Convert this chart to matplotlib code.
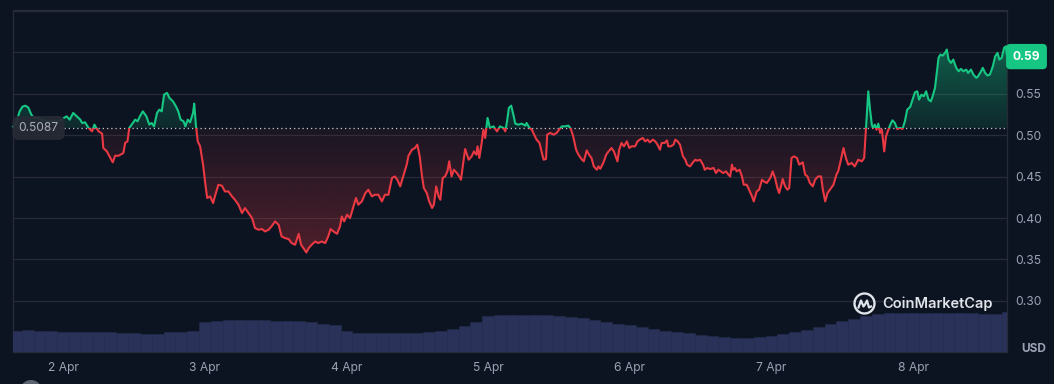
import numpy as np
import matplotlib
matplotlib.use("Agg")
import matplotlib.pyplot as plt
import matplotlib.transforms as mtransforms
from matplotlib.path import Path
from matplotlib.patches import Rectangle, Ellipse
from matplotlib.lines import Line2D

plt.rcParams['font.family'] = ['Inter', 'DejaVu Sans']

# price readings: hours since 1 Apr 00:00 and price (USD)
hours = [
    15.5, 16.0, 16.6, 17.1, 17.6, 18.1, 18.6, 19.1, 19.8, 20.4,
    21.1, 21.8, 22.5, 23.2, 23.8, 24.1, 24.6, 25.1, 25.7, 26.3,
    26.9, 27.2, 27.7, 28.3, 28.9, 29.3, 29.6, 30.0, 30.6, 30.8,
    31.4, 32.0, 32.4, 32.8, 33.4, 34.2, 34.5, 34.9, 35.2, 35.6,
    36.2, 36.6, 37.0, 37.5, 38.1, 38.6, 39.0, 39.4, 39.9, 40.3,
    40.7, 41.1, 41.6, 42.0, 42.6, 43.1, 43.5, 43.9, 44.4, 44.7,
    45.1, 45.5, 46.0, 46.2, 46.5, 46.8, 47.2, 47.7, 48.1, 48.4,
    48.9, 49.4, 49.7, 50.3, 50.9, 51.4, 52.0, 52.6, 53.1, 53.7,
    54.3, 54.8, 55.4, 56.0, 56.5, 57.1, 57.7, 58.2, 58.8, 59.3,
    59.9, 60.5, 61.0, 61.6, 62.2, 62.7, 63.3, 63.9, 64.3, 64.7,
    65.2, 65.6, 66.1, 66.7, 67.2, 67.8, 68.4, 68.9, 69.3, 69.8,
    70.4, 70.9, 71.2, 71.6, 72.1, 72.6, 73.1, 73.6, 74.0, 74.6,
    75.2, 75.7, 76.3, 76.8, 77.4, 78.0, 78.5, 79.1, 79.7, 80.2,
    80.6, 81.1, 81.6, 82.2, 82.5, 83.1, 83.6, 84.0, 84.4, 84.8,
    85.1, 85.6, 86.0, 86.5, 86.8, 87.2, 87.6, 87.9, 88.3, 88.7,
    89.1, 89.4, 89.8, 90.2, 90.7, 91.1, 91.4, 91.7, 92.1, 92.7,
    93.2, 93.6, 94.0, 94.2, 94.5, 94.9, 95.2, 95.5, 95.9, 96.3,
    96.9, 97.5, 98.0, 98.6, 98.9, 99.2, 99.5, 99.9, 100.2, 100.6,
    101.1, 101.7, 102.3, 102.5, 103.0, 103.4, 103.8, 104.2, 104.7, 105.1,
    105.4, 105.8, 106.0, 106.5, 107.1, 107.6, 108.1, 108.5, 109.0, 109.6,
    110.0, 110.4, 110.9, 111.3, 111.9, 112.2, 112.7, 113.1, 113.5, 113.9,
    114.4, 114.7, 115.0, 115.5, 116.0, 116.4, 116.9, 117.3, 117.7, 117.9,
    118.2, 118.6, 119.0, 119.5, 119.9, 120.3, 120.9, 121.3, 121.7, 122.2,
    122.6, 123.0, 123.4, 123.9, 124.3, 124.7, 125.1, 125.4, 125.9, 126.3,
    126.5, 126.9, 127.4, 127.7, 128.1, 128.5, 129.0, 129.4, 129.7, 130.2,
    130.7, 131.1, 131.4, 131.9, 132.4, 132.7, 133.1, 133.6, 134.2, 134.6,
    135.0, 135.4, 135.8, 136.3, 136.7, 137.0, 137.3, 137.5, 137.8, 138.1,
    138.6, 139.0, 139.3, 139.8, 140.2, 140.7, 141.0, 141.5, 141.9, 142.4,
    142.7, 143.2, 143.8, 144.2, 144.6, 145.0, 145.3, 145.6, 145.9, 146.3,
    146.7, 147.0, 147.4, 147.8, 148.3, 148.7, 149.3, 149.7, 150.1, 150.5,
    151.0, 151.4, 151.9, 152.4, 152.7, 153.1, 153.5, 153.9, 154.5, 155.0,
    155.3, 155.7, 156.2, 156.6, 157.0, 157.6, 158.1, 158.7, 159.3, 159.7,
    160.0, 160.4, 160.7, 161.0, 161.2, 161.5, 161.8, 162.1, 162.4, 162.7,
    163.1, 163.4, 163.8, 164.2, 164.5, 164.9, 165.3, 165.8, 166.2, 166.6,
    167.0, 167.5, 167.9, 168.3, 168.7, 169.0, 169.4, 169.8, 170.2, 170.6,
    171.0, 171.3, 171.7, 172.0, 172.3, 172.6, 173.0, 173.4, 173.7, 174.0,
    174.4, 174.8, 175.3, 175.7, 176.1, 176.5, 177.0, 177.3, 177.8, 178.2,
    178.7, 179.0, 179.4, 179.8, 180.2, 180.6, 181.0, 181.5, 181.9, 182.3,
    182.6, 183.0, 183.4, 183.7, 183.9,
]
prices = [
    0.5103, 0.5139, 0.5284, 0.5344, 0.5356, 0.5332, 0.5248, 0.5199, 0.5211, 0.5187,
    0.5175, 0.5163, 0.5175, 0.5175, 0.5187, 0.5208, 0.5227, 0.5187, 0.5268, 0.5227,
    0.5187, 0.5147, 0.5155, 0.5087, 0.5046, 0.5127, 0.5087, 0.5046, 0.5018, 0.4845,
    0.4804, 0.4725, 0.4672, 0.4752, 0.4752, 0.4785, 0.4906, 0.4925, 0.5087, 0.5127,
    0.5187, 0.5167, 0.5227, 0.5287, 0.5227, 0.5127, 0.5147, 0.5106, 0.5268, 0.5308,
    0.5287, 0.5489, 0.5510, 0.5449, 0.5408, 0.5348, 0.5287, 0.5187, 0.5167, 0.5106,
    0.5187, 0.5155, 0.5268, 0.5380, 0.5106, 0.4925, 0.4865, 0.4644, 0.4402, 0.4242,
    0.4261, 0.4181, 0.4261, 0.4402, 0.4390, 0.4321, 0.4321, 0.4261, 0.4221, 0.4161,
    0.4060, 0.4121, 0.4060, 0.4000, 0.3879, 0.3859, 0.3867, 0.3838, 0.3859, 0.3899,
    0.3959, 0.3919, 0.3778, 0.3758, 0.3746, 0.3698, 0.3678, 0.3810, 0.3678, 0.3638,
    0.3585, 0.3638, 0.3678, 0.3717, 0.3698, 0.3717, 0.3698, 0.3778, 0.3867, 0.3838,
    0.3810, 0.3899, 0.4019, 0.3959, 0.4040, 0.4000, 0.4121, 0.4242, 0.4161, 0.4201,
    0.4302, 0.4342, 0.4261, 0.4281, 0.4281, 0.4201, 0.4281, 0.4281, 0.4483, 0.4502,
    0.4463, 0.4382, 0.4502, 0.4644, 0.4752, 0.4825, 0.4845, 0.4885, 0.4744, 0.4502,
    0.4362, 0.4302, 0.4201, 0.4121, 0.4161, 0.4382, 0.4261, 0.4221, 0.4483, 0.4502,
    0.4563, 0.4684, 0.4502, 0.4583, 0.4543, 0.4502, 0.4463, 0.4623, 0.4833, 0.4704,
    0.4744, 0.4804, 0.4764, 0.4865, 0.4725, 0.4906, 0.5066, 0.4966, 0.5208, 0.5087,
    0.5106, 0.5046, 0.5106, 0.5087, 0.5046, 0.5167, 0.5328, 0.5356, 0.5268, 0.5139,
    0.5127, 0.5139, 0.5115, 0.5147, 0.5087, 0.5066, 0.5006, 0.4946, 0.4906, 0.4785,
    0.4704, 0.4713, 0.5006, 0.5027, 0.5006, 0.5027, 0.5075, 0.5106, 0.5106, 0.5115,
    0.5075, 0.4986, 0.4825, 0.4764, 0.4704, 0.4684, 0.4816, 0.4764, 0.4725, 0.4623,
    0.4583, 0.4623, 0.4595, 0.4664, 0.4764, 0.4804, 0.4845, 0.4804, 0.4725, 0.4684,
    0.4825, 0.4906, 0.4865, 0.4925, 0.4845, 0.4865, 0.4865, 0.4925, 0.4946, 0.4966,
    0.4925, 0.4946, 0.4913, 0.4946, 0.4925, 0.4885, 0.4825, 0.4906, 0.4906, 0.4937,
    0.4865, 0.4865, 0.4885, 0.4946, 0.4925, 0.4885, 0.4744, 0.4704, 0.4644, 0.4623,
    0.4672, 0.4704, 0.4692, 0.4704, 0.4644, 0.4583, 0.4604, 0.4592, 0.4604, 0.4543,
    0.4583, 0.4563, 0.4543, 0.4563, 0.4523, 0.4502, 0.4644, 0.4583, 0.4604, 0.4563,
    0.4583, 0.4502, 0.4402, 0.4402, 0.4342, 0.4261, 0.4201, 0.4321, 0.4342, 0.4463,
    0.4442, 0.4423, 0.4483, 0.4563, 0.4483, 0.4362, 0.4302, 0.4382, 0.4471, 0.4382,
    0.4342, 0.4362, 0.4725, 0.4744, 0.4725, 0.4644, 0.4672, 0.4523, 0.4502, 0.4423,
    0.4382, 0.4463, 0.4502, 0.4502, 0.4342, 0.4201, 0.4302, 0.4342, 0.4402, 0.4523,
    0.4563, 0.4684, 0.4845, 0.4725, 0.4644, 0.4664, 0.4623, 0.4704, 0.4684, 0.4725,
    0.5066, 0.5529, 0.5308, 0.5127, 0.5087, 0.5127, 0.5066, 0.5139, 0.5027, 0.5066,
    0.4804, 0.4986, 0.5066, 0.5139, 0.5179, 0.5147, 0.5075, 0.5087, 0.5075, 0.5167,
    0.5308, 0.5341, 0.5429, 0.5517, 0.5529, 0.5429, 0.5489, 0.5469, 0.5529, 0.5429,
    0.5408, 0.5469, 0.5570, 0.5751, 0.5932, 0.5972, 0.5960, 0.5993, 0.6033, 0.5912,
    0.5872, 0.5912, 0.5812, 0.5771, 0.5800, 0.5771, 0.5791, 0.5751, 0.5791, 0.5731,
    0.5691, 0.5710, 0.5758, 0.5812, 0.5751, 0.5719, 0.5731, 0.5831, 0.5952, 0.5993,
    0.5912, 0.5932, 0.6053, 0.6072, 0.5948,
]
open_price = 0.5087

# volume (arbitrary units), one bar per 2 hours
vol_hours = [
    16, 18, 20, 22, 24, 26, 28, 30, 32, 34, 36, 38, 40, 42, 44, 46, 48, 50, 52, 54,
    56, 58, 60, 62, 64, 66, 68, 70, 72, 74, 76, 78, 80, 82, 84, 86, 88, 90, 92, 94,
    96, 98, 100, 102, 104, 106, 108, 110, 112, 114, 116, 118, 120, 122, 124, 126, 128, 130, 132, 134,
    136, 138, 140, 142, 144, 146, 148, 150, 152, 154, 156, 158, 160, 162, 164, 166, 168, 170, 172, 174,
    176, 178, 180, 182, 184,
]
volumes = [
    21, 22, 21, 21, 20, 20, 20, 20, 20, 19, 19, 18, 18, 20, 20, 21, 30, 31, 32, 32,
    32, 32, 31.5, 31, 31, 30, 28, 27, 21, 19, 19, 19, 19, 19, 19, 20, 21, 23, 26, 30,
    36, 37, 37, 37, 37, 37, 36, 35, 34, 32, 30, 28, 27, 25, 23, 21, 20, 19, 17, 16,
    15, 14, 14, 15, 16, 18, 20, 22, 25, 28, 31, 33, 36, 38, 39, 39, 39, 39, 39, 39,
    39, 39, 38, 38, 40,
]

day_ticks = [24, 48, 72, 96, 120, 144, 168]
day_labels = ["2 Apr", "3 Apr", "4 Apr", "5 Apr", "6 Apr", "7 Apr", "8 Apr"]
price_ticks = [0.30, 0.35, 0.40, 0.45, 0.50, 0.55, 0.60, 0.65]

BG = "#0d1421"
GRID = "#262b37"
GREEN = "#16c784"
RED = "#ea3943"
TXT = "#9aa2b5"

W, H = 1054, 384
fig = plt.figure(figsize=(W / 100, H / 100), dpi=100, facecolor=BG)
ax = fig.add_axes([13 / W, 32 / H, 994 / W, 342 / H])
ax.set_facecolor(BG)

x = np.array(hours)
y = np.array(prices)
xmin, xmax = 15.5, 183.9
ymin, ymax = 0.2384, 0.6510

# volume pane
ax2 = ax.twinx()
ax2.bar(vol_hours, volumes, width=2.0, color="#2a3259", edgecolor="#252d50",
        linewidth=0.4, zorder=1)
ax2.set_ylim(0, 342)
ax2.set_yticks([])
for s in ax2.spines.values():
    s.set_visible(False)


def gradient_fill(mask, color, a_line, a_base, lo, hi, line_at_top):
    coll = ax.fill_between(x, y, open_price, where=mask, interpolate=True,
                           facecolor="none", edgecolor="none")
    path = Path.make_compound_path(*coll.get_paths())
    n = 256
    rgba = np.zeros((n, 1, 4))
    rgba[..., :3] = matplotlib.colors.to_rgb(color)
    ramp = np.linspace(0, 1, n)
    if line_at_top:
        rgba[:, 0, 3] = a_base + (a_line - a_base) * ramp
    else:
        rgba[:, 0, 3] = a_line + (a_base - a_line) * ramp
    im = ax.imshow(rgba, extent=[xmin, xmax, lo, hi], origin="lower",
                   aspect="auto", zorder=2, interpolation="bilinear")
    im.set_clip_path(path, transform=ax.transData)


gradient_fill(y >= open_price, GREEN, 0.42, 0.12, open_price, 0.61, True)
gradient_fill(y <= open_price, RED, 0.30, 0.06, 0.355, open_price, False)

# price line, green above the open price and red below
for color, lo, hi in [(GREEN, open_price, 1.0), (RED, 0.0, open_price)]:
    (ln,) = ax.plot(x, y, color=color, lw=1.5, zorder=4, solid_joinstyle="round")
    ln.set_clip_path(Rectangle((0, lo), 300, hi - lo, transform=ax.transData))

ax.axhline(open_price, color="#c3c8d2", lw=0.9, ls=(0, (1, 2.4)), zorder=3)

ax.set_xlim(xmin, xmax)
ax.set_ylim(ymin, ymax)
ax.set_xticks(day_ticks)
ax.set_xticklabels(day_labels)
ax.yaxis.tick_right()
ax.set_yticks(price_ticks)
ax.set_yticklabels([f"{v:.2f}" if v < 0.58 else "" for v in price_ticks])
ax.tick_params(axis="both", length=0, colors=TXT, labelsize=8.7)
ax.tick_params(axis="x", pad=7)
ax.tick_params(axis="y", pad=6)
ax.grid(axis="y", color=GRID, lw=0.9)
ax.set_axisbelow(True)
for s in ax.spines.values():
    s.set_color(GRID)
    s.set_linewidth(0.9)

mixed = mtransforms.blended_transform_factory(fig.transFigure, ax.transData)

# open price label on the left
ax.text(38.5 / W, open_price, f"{open_price:.4f}", transform=mixed, ha="center",
        va="center", fontsize=8.6, color="#a9aebb", zorder=6, clip_on=False,
        bbox=dict(boxstyle="round,pad=0.5,rounding_size=0.5", fc="#262a35",
                  ec="none", alpha=0.95))

# last price badge
ax.text(1026.5 / W, prices[-1], f"{prices[-1]:.2f}", transform=mixed, ha="center",
        va="center", fontsize=8.7, fontweight="bold", color="white", zorder=6,
        clip_on=False,
        bbox=dict(boxstyle="round,pad=0.55,rounding_size=0.35", fc=GREEN, ec="none"))

fig.text(1034 / W, 1 - 349 / H, "USD", ha="center", va="center", fontsize=8.5,
         fontweight="bold", color=TXT)

# CoinMarketCap watermark
cx, cy = 864.5, 303.5
fig.patches.append(Ellipse((cx / W, 1 - cy / H), 20 / W, 20 / H,
                           transform=fig.transFigure, fill=False, ec="#dfe3ea", lw=1.7))
wave = [(-6, 4), (-3.5, -3), (-1, 3), (0.5, 1), (2.5, -3), (4.5, 4), (6.5, 3)]
fig.lines.append(Line2D([(cx + a) / W for a, b in wave],
                        [1 - (cy + b) / H for a, b in wave],
                        transform=fig.transFigure, color="#dfe3ea", lw=1.6,
                        solid_joinstyle="round"))
fig.text(882 / W, 1 - 304 / H, "CoinMarketCap", ha="left", va="center",
         fontsize=10.5, fontweight="semibold", color="#dfe3ea")

# small round badge at the lower left corner
fig.patches.append(Ellipse((31 / W, 1 - 391 / H), 22 / W, 22 / H,
                           transform=fig.transFigure, fc="#5d6272", ec="none"))

fig.savefig("out.png", dpi=100, facecolor=BG)
